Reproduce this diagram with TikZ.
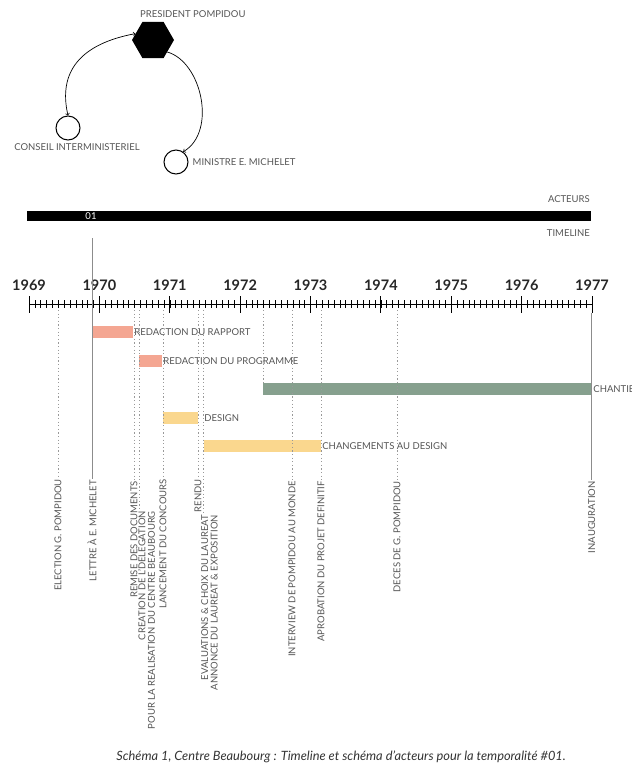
\documentclass[tikz,border=0pt]{standalone}
\usepackage{fontspec}
\setmainfont{Lato}
\usetikzlibrary{shapes.geometric,positioning}

\begin{document}
\begin{tikzpicture}[x=1pt,y=1pt]
\useasboundingbox (0,0) rectangle (632,-764);
%%%%%%%%%%%%%%%%%%%%%%%%%%%%%%%%%%%%%%%%%%%%%%%%%%%%%%%%%%%%%%
%couleurs
\definecolor{saumon}{RGB}{244,166,146}
\definecolor{vertgris}{RGB}{134,160,142}
\definecolor{jaune}{RGB}{250,215,142}
\definecolor{gristexte}{RGB}{85,85,85}
%styles
\tikzstyle{acteur}=[circle,fill=white,minimum size=24pt,inner sep=0pt,draw=black,line width=1pt]
\tikzstyle{president}=[regular polygon,regular polygon sides=6,fill=black,minimum size=42pt,inner sep=0pt]
\tikzstyle{etiquette}=[font=\fontsize{9.5}{9.5}\selectfont,text=gristexte,inner sep=1pt]
\tikzstyle{evenement}=[etiquette,rotate=90,anchor=east,align=right]
\tikzstyle{annee}=[font=\fontsize{14.5}{14.5}\selectfont\bfseries,text=black!85,inner sep=0pt]
\tikzstyle{barre}=[minimum height=12pt,inner sep=0pt]
\tikzstyle{pointille}=[draw=black!40,line width=0.8pt,dash pattern=on 1.2pt off 2.4pt]
\tikzstyle{trait}=[draw=black!45,line width=0.8pt]
%%%%%%%%%%%%%%%%%%%%%%%%%%%%%%%%%%%%%%%%%%%%%%%%%%%%%%%%%%%%%%
%acteurs
\node[president] (pres) at (153,-40) {};
\node[acteur] (cons) at (68,-128) {};
\node[acteur] (mini) at (176,-162) {};
\node[etiquette,anchor=west] (lpres) at (139,-14) {PRESIDENT POMPIDOU};
\node[etiquette] (lcons) at (77,-147) {CONSEIL INTERMINISTERIEL};
\node[etiquette,right=3pt of mini] (lmini) {MINISTRE E. MICHELET};
\draw[<->,>=to,line width=0.7pt] (pres.160) .. controls (80,-44) and (58,-72) .. (cons.north);
\draw[->,>=to,line width=0.7pt] (pres.-40) .. controls (202,-62) and (217,-132) .. (mini.55);
%%%%%%%%%%%%%%%%%%%%%%%%%%%%%%%%%%%%%%%%%%%%%%%%%%%%%%%%%%%%%%
%bandeau
\node[etiquette,anchor=east] (acteurs) at (591,-199) {ACTEURS};
\node[fill=black,minimum width=564pt,minimum height=10pt,inner sep=0pt] (bandeau) at (309,-216) {};
\node[etiquette,text=white] (num) at (91,-216) {01};
\node[etiquette,anchor=east] (timeline) at (591,-233) {TIMELINE};
%%%%%%%%%%%%%%%%%%%%%%%%%%%%%%%%%%%%%%%%%%%%%%%%%%%%%%%%%%%%%%
%axe
\draw[line width=1pt] (29,-304) -- (592,-304);
\foreach \m in {0,...,96}
  \draw[line width=0.5pt] ({29+\m*70.375/12},-300) -- ++(0,-8);
\foreach \a in {0,...,8}
  \draw[line width=1pt] ({29+\a*70.375},-296) -- ++(0,-17);
\foreach \y [count=\i from 0] in {1969,...,1977}
  \node[annee] (a\y) at ({29+\i*70.375},-285) {\y};
%%%%%%%%%%%%%%%%%%%%%%%%%%%%%%%%%%%%%%%%%%%%%%%%%%%%%%%%%%%%%%
%barres
\node[barre,fill=saumon,minimum width=40pt] (b1) at (113,-332) {};
\node[barre,fill=saumon,minimum width=23pt] (b2) at (150.5,-361) {};
\node[barre,fill=vertgris,minimum width=328pt] (b3) at (427,-389) {};
\node[barre,fill=jaune,minimum width=35pt] (b4) at (180.5,-418) {};
\node[barre,fill=jaune,minimum width=117pt] (b5) at (262.5,-446) {};
\node[etiquette,right=0pt of b1] (lb1) {REDACTION DU RAPPORT};
\node[etiquette,right=0pt of b2] (lb2) {REDACTION DU PROGRAMME};
\node[etiquette,right=1pt of b3] (lb3) {CHANTIER};
\node[etiquette,right=5pt of b4] (lb4) {DESIGN};
\node[etiquette,right=0pt of b5] (lb5) {CHANGEMENTS AU DESIGN};
%%%%%%%%%%%%%%%%%%%%%%%%%%%%%%%%%%%%%%%%%%%%%%%%%%%%%%%%%%%%%%
%evenements
\node[evenement] (e1) at (58,-478) {ELECTION G. POMPIDOU};
\node[evenement] (e2) at (92,-479) {LETTRE À E. MICHELET};
\node[evenement] (e3) at (134,-480) {REMISE DES DOCUMENTS};
\node[evenement,anchor=north east] (e4) at (137,-510) {CREATION DE L'DELEGATION\\POUR LA REALISATION DU CENTRE BEAUBOURG};
\node[evenement] (e5) at (163,-478) {LANCEMENT DU CONCOURS};
\node[evenement] (e6) at (198,-478) {RENDU};
\node[evenement,anchor=north east] (e7) at (200,-514) {EVALUATIONS \& CHOIX DU LAUREAT\\ANNONCE DU LAUREAT \& EXPOSITION};
\node[evenement] (e8) at (292,-480) {INTERVIEW DE POMPIDOU AU MONDE};
\node[evenement] (e9) at (321,-480) {APROBATION DU PROJET DEFINITIF};
\node[evenement] (e10) at (397,-480) {DECES DE G. POMPIDOU};
\node[evenement] (e11) at (591.6,-480) {INAUGURATION};
%reperes sur l'axe
\coordinate (m01) at (92,-238);
\coordinate (t1) at (58,-310);
\coordinate (t3) at (134,-310);
\coordinate (t4) at (139,-310);
\coordinate (t5) at (163,-310);
\coordinate (t6) at (198,-310);
\coordinate (t7) at (203,-310);
\coordinate (tc) at (263.5,-310);
\coordinate (t8) at (292,-310);
\coordinate (t9) at (321,-310);
\coordinate (t10) at (397,-310);
\coordinate (t11) at (591.6,-313);
%%%%%%%%%%%%%%%%%%%%%%%%%%%%%%%%%%%%%%%%%%%%%%%%%%%%%%%%%%%%%%
%LIGNES
\draw[trait] (m01) -- (e2);
\draw[trait] (t11) -- (e11);
\draw[pointille] (t1) -- (e1);
\draw[pointille] (t3) -- (e3);
\draw[pointille] (t4) -- (t4 |- e4.north east);
\draw[pointille] (t5) -- (e5);
\draw[pointille] (t6) -- (e6);
\draw[pointille] (t7) -- (t7 |- e7.north east);
\draw[pointille] (tc) -- (tc |- b3.north);
\draw[pointille] (t8) -- (e8);
\draw[pointille] (t9) -- (e9);
\draw[pointille] (t10) -- (e10);
%legende
\node[font=\fontsize{12.8}{14}\selectfont\itshape,text=black!80] (legende) at (341,-757) {Schéma 1, Centre Beaubourg : Timeline et schéma d'acteurs pour la temporalité \#01.};
\end{tikzpicture}
\end{document}
